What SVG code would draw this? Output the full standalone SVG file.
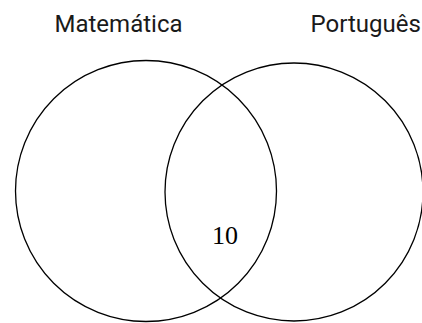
<svg xmlns="http://www.w3.org/2000/svg" width="422" height="323" viewBox="0 0 422 323">
<style>
.set{fill:none;stroke:#000;stroke-width:1.3}
.lbl{font-family:Roboto,"Liberation Sans",sans-serif;font-size:24px;fill:#1a1a1a}
.num{font-family:"Liberation Serif",serif;font-size:26px;fill:#000}
</style>
<rect width="422" height="323" fill="#fff"/>
<g id="matematica">
<circle class="set" cx="146" cy="191" r="130.5"/>
<text class="lbl" x="54.5" y="31.5">Matemática</text>
</g>
<g id="portugues">
<circle class="set" cx="294" cy="192" r="129"/>
<text class="lbl" x="310.5" y="32">Português</text>
</g>
<g id="intersecao">
<text class="num" x="212" y="243.5">10</text>
</g>
<g id="connectors"/>
</svg>
